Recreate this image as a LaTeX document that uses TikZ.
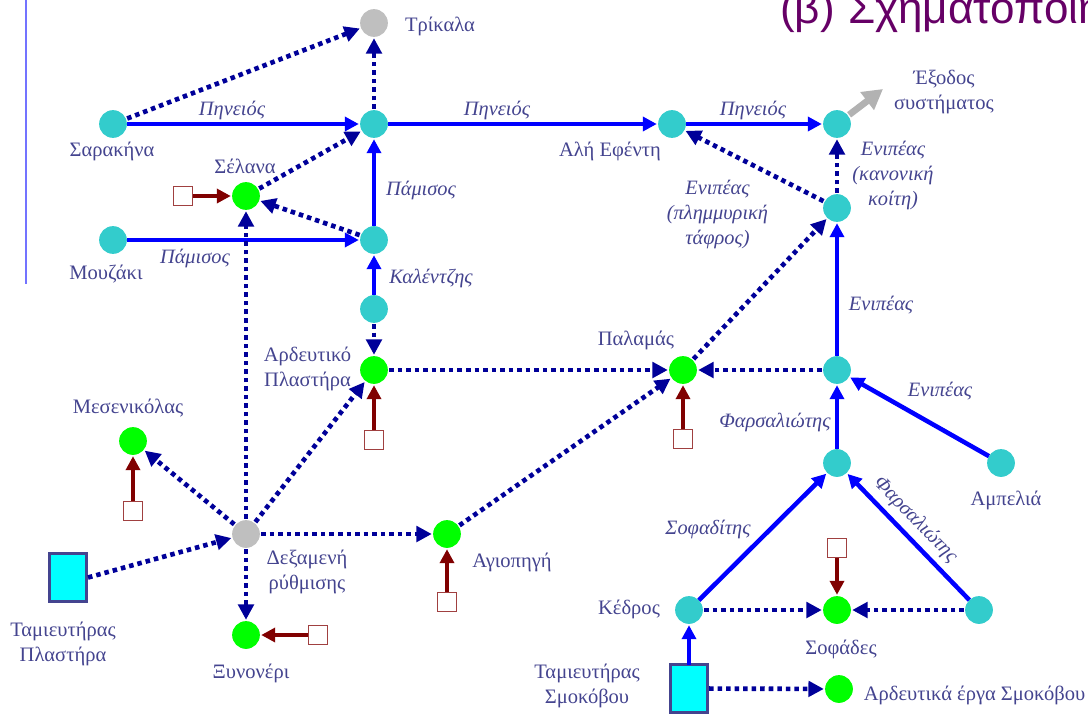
\documentclass[tikz,border=0pt]{standalone}
\usepackage{fontspec}
\setmainfont{Liberation Serif}
\newfontfamily\titlefont{Liberation Sans}
\usetikzlibrary{arrows.meta}
\definecolor{labelblue}{HTML}{44448F}
\definecolor{rivercol}{HTML}{0000FF}
\definecolor{canalcol}{HTML}{000099}
\definecolor{demandcol}{HTML}{800000}
\definecolor{junctioncol}{HTML}{33CCCC}
\definecolor{titlecol}{HTML}{660066}
\definecolor{tankcol}{HTML}{00FFFF}
\tikzset{
	junction/.style={circle,fill=junctioncol,minimum size=20.8pt,inner sep=0pt,outer sep=1pt},
	demand/.style={circle,fill=green,minimum size=20.8pt,inner sep=0pt,outer sep=1pt},
	storage/.style={circle,fill=black!25,minimum size=20.8pt,inner sep=0pt,outer sep=1pt},
	reservoir/.style={rectangle,draw=labelblue,line width=2.2pt,fill=tankcol,minimum width=28pt,minimum height=36pt,inner sep=0pt,outer sep=1pt},
	source/.style={rectangle,draw=demandcol!75,line width=0.9pt,fill=white,minimum size=14.5pt,inner sep=0pt},
	river/.style={draw=rivercol,line width=3.4pt,shorten <=-1pt,-{Triangle[length=10.5pt,width=10.5pt]}},
	canal/.style={draw=canalcol,line width=3.5pt,dash pattern=on 3.4pt off 3pt,-{Triangle[length=11.5pt,width=11.5pt]}},
	inflow/.style={draw=demandcol,line width=3.4pt,-{Triangle[length=10.5pt,width=10.5pt]}},
	place/.style={text=labelblue,font=\fontsize{15.4pt}{18.75pt}\selectfont,align=center,inner sep=0pt},
	stream/.style={place,font=\fontsize{15.3pt}{18.75pt}\selectfont\itshape}
}
\begin{document}
\begin{tikzpicture}[x=0.75pt,y=-0.75pt]
	\useasboundingbox (0,0) rectangle (1088,715);
	\coordinate (railtop) at (26,0);
	\coordinate (railend) at (26,284);
	\draw[color=blue!55!white,line width=0.8pt] (railtop) -- (railend);
	\begin{scope}
		\clip (760,0) rectangle (1088,32);
		\node[anchor=base west,text=titlecol,inner sep=0pt,font=\fontsize{33pt}{33pt}\titlefont] (title) at (780,23) {(β)\hspace{10pt}Σχηματοποίηση};
	\end{scope}

	\node[storage] (trikala) at (374,23) {};
	\node[junction] (sarakina) at (113,124) {};
	\node[junction] (pineios) at (374,124) {};
	\node[junction] (alefenti) at (672,124) {};
	\node[junction] (exodos) at (837,124) {};
	\node[demand] (selana) at (246,196) {};
	\node[junction] (enipeas) at (837,208) {};
	\node[junction] (mouzaki) at (113,240) {};
	\node[junction] (pamisos) at (374,240) {};
	\node[junction] (kalentzis) at (374,309) {};
	\node[demand] (ardeftiko) at (374,370) {};
	\node[demand] (palamas) at (683,370) {};
	\node[junction] (enifars) at (837,370) {};
	\node[demand] (mesenikolas) at (133,441) {};
	\node[junction] (farsaliotis) at (837,463) {};
	\node[junction] (ampelia) at (1001,463) {};
	\node[storage] (dexameni) at (246,534) {};
	\node[demand] (agiopigi) at (447,534) {};
	\node[reservoir] (plastiras) at (68,577.5) {};
	\node[junction] (kedros) at (689,610) {};
	\node[demand] (sofades) at (837,610) {};
	\node[junction] (sofright) at (979,610) {};
	\node[demand] (xynoneri) at (246,635) {};
	\node[reservoir] (smokovo) at (689,688.5) {};
	\node[demand] (smokerga) at (839,689) {};
	\coordinate (exodosend) at (883,89);

	\foreach \a/\b in {sarakina/pineios,pineios/alefenti,alefenti/exodos,mouzaki/pamisos,pamisos/pineios,kalentzis/pamisos,enifars/enipeas,farsaliotis/enifars,ampelia/enifars,kedros/farsaliotis,smokovo/kedros}
		\draw[river] (\a) -- (\b);
	\draw[river] (sofright) -- node[stream,sloped,above=4pt,pos=0.54] (lblfarsslope) {Φαρσαλιώτης} (farsaliotis);
	\foreach \a/\b in {sarakina/trikala,pineios/trikala,selana/pineios,pamisos/selana,dexameni/selana,kalentzis/ardeftiko,ardeftiko/palamas,palamas/enipeas,enifars/palamas,agiopigi/palamas,dexameni/ardeftiko,dexameni/mesenikolas,dexameni/agiopigi,dexameni/xynoneri,enipeas/exodos,enipeas/alefenti,kedros/sofades,sofright/sofades,smokovo/smokerga}
		\draw[canal] (\a) -- (\b);
	\draw[canal] (plastiras.east) -- (dexameni);
	\draw[draw=black!30,line width=5pt,-{Triangle[length=15pt,width=16pt]}] (exodos) -- (exodosend);

	\foreach \n/\x/\y/\t in {sqselana/183/196/selana,sqardeftiko/374/440/ardeftiko,sqmesen/133/511/mesenikolas,sqagiopigi/447/602/agiopigi,sqxynoneri/318/635/xynoneri,sqpalamas/683/439/palamas,sqsofades/837/548/sofades} {
		\node[source] (\n) at (\x,\y) {};
		\draw[inflow] (\n) -- (\t);
	}

	\node[place] (lbltrikala) at (440,26) {Τρίκαλα};
	\node[place] (lblsarakina) at (112,151) {Σαρακήνα};
	\node[place] (lblselana) at (245,166) {Σέλανα};
	\node[place] (lblmouzaki) at (106,274) {Μουζάκι};
	\node[place] (lblalefenti) at (610,151) {Αλή Εφέντη};
	\node[place] (lblexodos) at (944,92) {Έξοδος\\συστήματος};
	\node[place] (lblpalamas) at (636,340) {Παλαμάς};
	\node[place] (lblardeftiko) at (307.5,369) {Αρδευτικό\\Πλαστήρα};
	\node[place] (lblmesen) at (128,408) {Μεσενικόλας};
	\node[place] (lbldexameni) at (307,572) {Δεξαμενή\\ρύθμισης};
	\node[place] (lblagiopigi) at (512,562) {Αγιοπηγή};
	\node[place] (lblplastiras) at (63,644) {Ταμιευτήρας\\Πλαστήρα};
	\node[place] (lblxynoneri) at (251,673) {Ξυνονέρι};
	\node[place] (lblampelia) at (1006,500) {Αμπελιά};
	\node[place] (lblkedros) at (629,609) {Κέδρος};
	\node[place] (lblsofades) at (841,649) {Σοφάδες};
	\node[place] (lblsmokovo) at (587,685.5) {Ταμιευτήρας\\Σμοκόβου};
	\node[place] (lblerga) at (974.5,695) {Αρδευτικά έργα Σμοκόβου};

	\node[stream] (lblpin1) at (232,110) {Πηνειός};
	\node[stream] (lblpin2) at (497,110) {Πηνειός};
	\node[stream] (lblpin3) at (753,110) {Πηνειός};
	\node[stream] (lblpam1) at (421,190) {Πάμισος};
	\node[stream] (lblpam2) at (195,258) {Πάμισος};
	\node[stream] (lblkal) at (431,278) {Καλέντζης};
	\node[stream] (lblenikan) at (893,175.5) {Ενιπέας\\(κανονική\\κοίτη)};
	\node[stream] (lbleniplim) at (717.5,214.5) {Ενιπέας\\(πλημμυρική\\τάφρος)};
	\node[stream] (lbleni1) at (881,305) {Ενιπέας};
	\node[stream] (lbleni2) at (940,391) {Ενιπέας};
	\node[stream] (lblfars) at (775,422) {Φαρσαλιώτης};
	\node[stream] (lblsof) at (708,529) {Σοφαδίτης};
\end{tikzpicture}
\end{document}
